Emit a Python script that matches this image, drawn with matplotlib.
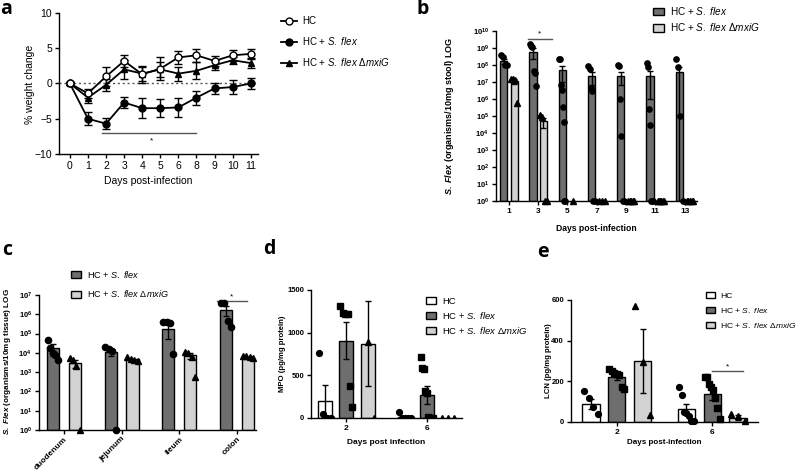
import numpy as np
import matplotlib
matplotlib.use('Agg')
import matplotlib.pyplot as plt
from matplotlib.patches import Patch
from matplotlib.lines import Line2D
from matplotlib.ticker import NullLocator

plt.rcParams['font.family'] = ['Liberation Sans', 'DejaVu Sans']
plt.rcParams['mathtext.fontset'] = 'custom'
plt.rcParams['mathtext.rm'] = 'Liberation Sans'
plt.rcParams['mathtext.it'] = 'Liberation Sans:italic'
plt.rcParams['mathtext.bf'] = 'Liberation Sans:bold'
try:
    plt.rcParams['mathtext.bfit'] = 'Liberation Sans:italic:bold'
except Exception:
    pass

# ---------------- data ----------------
# panel a: % weight change
a_days = ['0', '1', '2', '3', '4', '5', '6', '8', '9', '10', '11']
a_hc = [0, -1.4, 1.0, 3.2, 1.3, 2.1, 3.7, 4.0, 3.2, 4.0, 4.2]
a_hc_err = [0.2, 0.6, 1.4, 0.9, 1.2, 1.6, 0.9, 0.9, 0.7, 0.7, 0.7]
a_flex = [0, -5.0, -5.7, -2.7, -3.5, -3.5, -3.4, -2.0, -0.7, -0.5, 0.0]
a_flex_err = [0.2, 0.9, 0.8, 0.8, 1.4, 1.3, 1.4, 1.0, 0.8, 1.0, 0.8]
a_mxig = [0, -2.0, -0.2, 2.0, 1.4, 2.0, 1.4, 1.8, 2.6, 3.3, 2.9]
a_mxig_err = [0.2, 0.7, 0.9, 1.3, 1.0, 1.1, 1.0, 1.2, 0.7, 0.5, 0.7]

# panel b: stool counts
b_days = ['1', '3', '5', '7', '9', '11', '13']
b_flex_mean = [1.8e8, 6.2e8, 5.0e7, 2.4e7, 2.4e7, 2.3e7, 3.8e7]
b_flex_sem = [6e7, 4e8, 4e7, 1.7e7, 1.7e7, 2.2e7, 4e7]
b_mxig_mean = [1.2e7, 5.0e4, 0, 0, 0, 0, 0]
b_mxig_sem = [4e6, 3e4, 0, 0, 0, 0, 0]
b_flex_pts = [[4e8, 2.9e8, 1e8, 9.5e7],
              [1.7e9, 1.4e9, 1.2e9, 4.2e7, 3.3e7, 5.5e6],
              [2.2e8, 2.2e8, 7e6, 3.5e6, 3.2e5, 4.5e4, 0, 0],
              [9e7, 6e7, 4.5e6, 3e6, 0, 0],
              [1e8, 9e7, 1e6, 7e3, 0, 0],
              [1.3e8, 8e7, 2.7e5, 3e4, 0, 0, 0],
              [2.3e8, 8e7, 1e5, 0]]
b_mxig_pts = [[1.5e7, 1.5e7, 1.3e7, 6e5],
              [1.1e5, 8.7e4, 0, 0],
              [0],
              [0, 0, 0],
              [0, 0, 0, 0, 0],
              [0, 0, 0, 0, 0, 0],
              [0, 0, 0, 0, 0]]

# panel c: tissue counts
c_sites = ['duodenum', 'jejunum', 'ileum', 'colon']
c_flex_mean = [1.8e4, 1.05e4, 1.8e5, 1.7e6]
c_flex_sem = [1.1e4, 4e3, 1.3e5, 9e5]
c_mxig_mean = [3.0e3, 4.6e3, 7.5e3, 6.0e3]
c_mxig_sem = [1.4e3, 4e2, 2.5e3, 4e2]
c_flex_pts = [[4.6e4, 1.7e4, 9.3e3, 7.6e3, 4.2e3],
              [2.1e4, 1.5e4, 1.2e4, 0],
              [4e5, 4e5, 3.5e5, 9e3],
              [3.9e6, 3.8e6, 4.4e5, 2.2e5]]
c_mxig_pts = [[5.5e3, 4.5e3, 2e3, 0],
              [6e3, 5e3, 4.5e3, 4e3],
              [1.1e4, 1e4, 6e3, 5.7e2],
              [7e3, 6.5e3, 6e3, 5.5e3]]

# panel d: MPO
d_days = ['2', '6']
d_hc_mean = [200, 14]
d_hc_sem = [190, 14]
d_hc_pts = [[756, 51, 0, 0], [70, 0, 0, 0, 0]]
d_flex_mean = [905, 270]
d_flex_sem = [215, 110]
d_flex_pts = [[1316, 1226, 1214, 1214, 372, 129],
              [717, 587, 580, 316, 290, 12, 0, 0, 0]]
d_mxig_mean = [870, 0]
d_mxig_sem = [500, 0]
d_mxig_pts = [[1700, 885, 0], [0, 0, 0]]

# panel e: LCN
e_days = ['2', '6']
e_hc_mean = [87, 63]
e_hc_sem = [25, 25]
e_hc_pts = [[153, 118, 74, 41], [173, 135, 50, 45, 28, 5, 3]]
e_flex_mean = [220, 136]
e_flex_sem = [15, 27]
e_flex_pts = [[260, 250, 242, 238, 230, 173, 164],
              [222, 219, 185, 173, 156, 120, 71, 16]]
e_mxig_mean = [300, 22]
e_mxig_sem = [157, 10]
e_mxig_pts = [[572, 293, 33], [41, 28, 5]]

lab_hc = 'HC'
lab_flex = r'HC + $\it{S.\ flex}$'
lab_mxig = r'HC + $\it{S.\ flex}$ Δ$\it{mxiG}$'

DARK = '#6e6e6e'
LIGHT = '#d2d2d2'

# ---------------- helpers ----------------
W, H = 800, 470
fig = plt.figure(figsize=(8, 4.7), dpi=100)


def rect(l, t, r, b):
    return [l / W, 1 - b / H, (r - l) / W, (b - t) / H]


def ft(x, y, s, **kw):
    kw.setdefault('ha', 'center')
    kw.setdefault('va', 'center')
    return fig.text(x / W, 1 - y / H, s, **kw)


def style(ax, fs=7, bold=False):
    for s in ['top', 'right']:
        ax.spines[s].set_visible(False)
    for s in ['left', 'bottom']:
        ax.spines[s].set_linewidth(1.0)
    ax.tick_params(direction='out', length=3, width=1, labelsize=fs, pad=2)
    if bold:
        for lab in ax.get_xticklabels() + ax.get_yticklabels():
            lab.set_fontweight('bold')


def spread(c, n, w):
    if n <= 1:
        return np.full(n, float(c))
    return c + np.linspace(-w / 2, w / 2, n)


def bars_with_points(ax, xs, means, sems, pts, color, marker, bw, ms, log=False, cap=2.5):
    xs = np.asarray(xs, float)
    means = np.asarray(means, float)
    sems = np.asarray(sems, float)
    keep = means > 0
    base = 1 if log else 0
    ax.bar(xs[keep], means[keep] - base, bw, bottom=base, color=color,
           edgecolor='black', linewidth=1.0, zorder=2)
    ax.errorbar(xs[keep], means[keep], yerr=sems[keep], fmt='none', ecolor='black',
                elinewidth=1.0, capsize=cap, capthick=1.0, zorder=3)
    for x, p in zip(xs, pts):
        p = np.asarray(p, float)
        y = np.maximum(p, 1) if log else p
        ax.plot(spread(x, len(p), bw * 0.85), y, linestyle='none', marker=marker,
                color='black', ms=ms, clip_on=False, zorder=4)


def legend(ax, handles, labels, x, y, fs, spacing):
    ax.legend(handles, labels, loc='upper left', bbox_to_anchor=(x / W, 1 - y / H),
              bbox_transform=fig.transFigure, frameon=False, fontsize=fs,
              handlelength=1.1, handleheight=0.8, labelspacing=spacing, borderpad=0,
              handletextpad=0.6, borderaxespad=0)


def patches(colors):
    return [Patch(facecolor=c, edgecolor='black') for c in colors]


# ---------------- panel a ----------------
ax = fig.add_axes(rect(59, 13, 258, 154))
xa = np.arange(len(a_days))
ax.axhline(0, color='#555555', lw=1, ls=(0, (1.5, 2)), zorder=1)
ax.errorbar(xa, a_flex, yerr=a_flex_err, color='black', marker='o', ms=5,
            lw=1.3, capsize=3, elinewidth=1, zorder=3)
ax.errorbar(xa, a_mxig, yerr=a_mxig_err, color='black', marker='^', ms=5,
            lw=1.3, capsize=3, elinewidth=1, zorder=3)
ax.errorbar(xa, a_hc, yerr=a_hc_err, color='black', marker='o', ms=5, mfc='white',
            lw=1.3, capsize=3, elinewidth=1, zorder=4)
ax.plot([1.8, 7.0], [-7, -7], color='#555555', lw=1)
ax.text(4.5, -8.2, '*', ha='center', va='center', fontsize=6)
ax.set_xlim(-0.6, 10.4)
ax.set_ylim(-10, 10)
ax.set_xticks(xa)
ax.set_xticklabels(a_days)
ax.set_yticks([-10, -5, 0, 5, 10])
style(ax, fs=7.5)
ft(148, 181, 'Days post-infection', fontsize=7.5)
ft(30, 84, '% weight change', fontsize=7.5, rotation=90)
handles = [Line2D([], [], color='black', marker='o', mfc='white', ms=5, lw=1.3),
           Line2D([], [], color='black', marker='o', ms=5, lw=1.3),
           Line2D([], [], color='black', marker='^', ms=5, lw=1.3)]
ax.legend(handles, [lab_hc, lab_flex, lab_mxig], loc='upper left',
          bbox_to_anchor=(281 / W, 1 - 16 / H), bbox_transform=fig.transFigure,
          frameon=False, fontsize=7, handlelength=1.6, labelspacing=0.95,
          borderpad=0, handletextpad=0.6, borderaxespad=0)
ft(6, 9, 'a', fontsize=14, fontweight='bold', family='Open Sans')

# ---------------- panel b ----------------
ax = fig.add_axes(rect(496, 31, 697, 201))
ax.set_yscale('log')
xb = np.arange(len(b_days))
off, bw = 0.18, 0.25
bars_with_points(ax, xb - off, b_flex_mean, b_flex_sem, b_flex_pts, DARK, 'o', bw, 3.8, log=True, cap=2)
bars_with_points(ax, xb + off, b_mxig_mean, b_mxig_sem, b_mxig_pts, LIGHT, '^', bw, 3.8, log=True, cap=2)
ax.set_ylim(1, 1e10)
ax.set_xlim(-0.44, 6.42)
ax.set_yticks([10.0 ** k for k in range(11)])
ax.set_yticklabels([r'$\mathbf{10^{%d}}$' % k for k in range(11)])
ax.yaxis.set_minor_locator(NullLocator())
ax.set_xticks(xb)
ax.set_xticklabels(b_days)
style(ax, fs=6, bold=True)
ax.tick_params(axis='y', labelsize=5.5)
ax.plot([0.66, 1.47], [3.4e9, 3.4e9], color='#555555', lw=1, clip_on=False)
ax.text(1.06, 6.5e9, '*', ha='center', va='center', fontsize=6)
ft(596, 228, 'Days post-infection', fontsize=6.2, fontweight='bold')
ft(450, 116, r'$\mathbfit{S.\ Flex}$ (organisms/10mg stool) LOG', fontsize=6.5,
   fontweight='bold', rotation=90)
legend(ax, patches([DARK, LIGHT]), [lab_flex, lab_mxig], 653, 5, 7.2, 0.42)
ft(423, 9, 'b', fontsize=14, fontweight='bold', family='Open Sans')

# ---------------- panel c ----------------
ax = fig.add_axes(rect(39, 295, 256, 430))
ax.set_yscale('log')
xc = np.arange(len(c_sites))
off, bw = 0.19, 0.21
bars_with_points(ax, xc - off, c_flex_mean, c_flex_sem, c_flex_pts, DARK, 'o', bw, 4.5, log=True, cap=2.5)
bars_with_points(ax, xc + off, c_mxig_mean, c_mxig_sem, c_mxig_pts, LIGHT, '^', bw, 4.5, log=True, cap=2.5)
ax.set_ylim(1, 1e7)
ax.set_xlim(-0.43, 3.33)
ax.set_yticks([10.0 ** k for k in range(8)])
ax.set_yticklabels([r'$\mathbf{10^{%d}}$' % k for k in range(8)])
ax.yaxis.set_minor_locator(NullLocator())
ax.set_xticks(xc)
ax.set_xticklabels(c_sites, rotation=45, ha='right', rotation_mode='anchor')
style(ax, fs=6, bold=True)
ax.tick_params(axis='y', labelsize=5.5)
ax.tick_params(axis='x', pad=1)
ax.plot([2.65, 3.17], [5e6, 5e6], color='#555555', lw=1, clip_on=False)
ax.text(2.91, 8e6, '*', ha='center', va='center', fontsize=6)
ft(8, 362, r'$\mathbfit{S.\ Flex}$ (organisms/10mg tissue) LOG', fontsize=5.9,
   fontweight='bold', rotation=90)
legend(ax, patches([DARK, LIGHT]), [lab_flex, lab_mxig], 71, 269, 6.6, 0.9)
ft(7, 250, 'c', fontsize=14, fontweight='bold', family='Open Sans')

# ---------------- panel d ----------------
ax = fig.add_axes(rect(311, 290, 462, 418))
xd = np.arange(len(d_days))
off, bw = 0.27, 0.175
bars_with_points(ax, xd - off, d_hc_mean, d_hc_sem, d_hc_pts, 'white', 'o', bw, 4.2)
bars_with_points(ax, xd, d_flex_mean, d_flex_sem, d_flex_pts, DARK, 's', bw, 4.2)
bars_with_points(ax, xd + off, d_mxig_mean, d_mxig_sem, d_mxig_pts, LIGHT, '^', bw, 4.2)
for ln in ax.lines:
    ln.set_clip_on(True)
ax.set_ylim(0, 1500)
ax.set_xlim(-0.44, 1.44)
ax.set_yticks([0, 500, 1000, 1500])
ax.set_xticks(xd)
ax.set_xticklabels(d_days)
style(ax, fs=5.5, bold=True)
ax.tick_params(axis='x', labelsize=6)
ft(386, 443, 'Days post infection', fontsize=6, fontweight='bold')
ft(283, 354, 'MPO (pg/mg protein)', fontsize=5.6, fontweight='bold', rotation=90)
legend(ax, patches(['white', DARK, LIGHT]), [lab_hc, lab_flex, lab_mxig], 426, 297, 6.8, 0.42)
ft(269, 249, 'd', fontsize=14, fontweight='bold', family='Open Sans')

# ---------------- panel e ----------------
ax = fig.add_axes(rect(571, 300, 758, 422))
xe = np.arange(len(e_days))
off, bw = 0.27, 0.18
bars_with_points(ax, xe - off, e_hc_mean, e_hc_sem, e_hc_pts, 'white', 'o', bw, 4.2)
bars_with_points(ax, xe, e_flex_mean, e_flex_sem, e_flex_pts, DARK, 's', bw, 4.2)
bars_with_points(ax, xe + off, e_mxig_mean, e_mxig_sem, e_mxig_pts, LIGHT, '^', bw, 4.2)
ax.set_ylim(0, 600)
ax.set_xlim(-0.48, 1.48)
ax.set_yticks([0, 200, 400, 600])
ax.set_xticks(xe)
ax.set_xticklabels(e_days)
style(ax, fs=5.5, bold=True)
ax.tick_params(axis='x', labelsize=6)
ax.plot([0.995, 1.32], [250, 250], color='#555555', lw=1)
ax.text(1.16, 272, '*', ha='center', va='center', fontsize=6)
ft(664, 443, 'Days post-infection', fontsize=5.8, fontweight='bold')
ft(549, 361, 'LCN (pg/mg protein)', fontsize=5.6, fontweight='bold', rotation=90)
legend(ax, patches(['white', DARK, LIGHT]), [lab_hc, lab_flex, lab_mxig], 706, 292, 6.1, 0.68)
ft(543, 252, 'e', fontsize=14, fontweight='bold', family='Open Sans')

fig.savefig('out.png', dpi=100)
